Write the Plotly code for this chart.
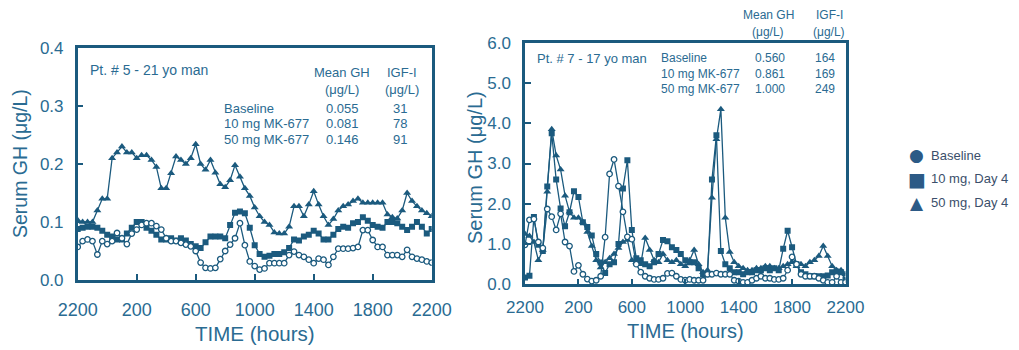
import plotly.graph_objects as go

# sampling: every 20 minutes from 2200 to 2200 (hours after 2200)
sample_hours = [m / 60 for m in range(0, 24 * 60 + 1, 20)]

x_tick_hours = [0, 4, 8, 12, 16, 20, 24]
x_tick_labels = ["2200", "200", "600", "1000", "1400", "1800", "2200"]

# ---------- Patient 5 (left) ----------
p5_baseline = [0.057, 0.067, 0.07, 0.067, 0.044, 0.067, 0.062, 0.067, 0.081, 0.072,
               0.062, 0.08, 0.087, 0.095, 0.098, 0.098, 0.093, 0.087, 0.072, 0.067,
               0.067, 0.064, 0.061, 0.058, 0.05, 0.03, 0.021, 0.02, 0.021, 0.036,
               0.05, 0.061, 0.072, 0.098, 0.06, 0.032, 0.024, 0.018, 0.02, 0.029,
               0.029, 0.029, 0.029, 0.043, 0.049, 0.043, 0.04, 0.035, 0.029, 0.037,
               0.035, 0.026, 0.04, 0.054, 0.054, 0.054, 0.055, 0.057, 0.086, 0.086,
               0.069, 0.057, 0.057, 0.043, 0.043, 0.043, 0.04, 0.052, 0.04, 0.037,
               0.035, 0.032, 0.03]
p5_10mg = [0.088, 0.09, 0.092, 0.092, 0.09, 0.085, 0.078, 0.075, 0.07, 0.07,
           0.08, 0.09, 0.1, 0.1, 0.09, 0.085, 0.078, 0.07, 0.07, 0.072,
           0.068, 0.072, 0.068, 0.062, 0.058, 0.055, 0.065, 0.075, 0.075, 0.075,
           0.072, 0.095, 0.116, 0.118, 0.115, 0.09, 0.06, 0.045, 0.04, 0.042,
           0.045, 0.045, 0.048, 0.055, 0.07, 0.068, 0.075, 0.078, 0.085, 0.08,
           0.07, 0.07, 0.078, 0.088, 0.092, 0.09, 0.098, 0.1, 0.108, 0.102,
           0.095, 0.092, 0.09, 0.1, 0.1, 0.098, 0.092, 0.086, 0.092, 0.1,
           0.092, 0.08, 0.088]
p5_50mg = [0.103, 0.1, 0.1, 0.1, 0.12, 0.14, 0.14, 0.21, 0.22, 0.23,
           0.22, 0.22, 0.21, 0.215, 0.215, 0.207, 0.195, 0.158, 0.158, 0.184,
           0.213, 0.207, 0.2, 0.21, 0.234, 0.2, 0.19, 0.207, 0.185, 0.165,
           0.16, 0.172, 0.198, 0.178, 0.158, 0.145, 0.125, 0.11, 0.1, 0.095,
           0.082, 0.08, 0.08, 0.092, 0.127, 0.127, 0.11, 0.13, 0.153, 0.13,
           0.11, 0.095, 0.105, 0.12, 0.127, 0.13, 0.136, 0.14, 0.133, 0.133,
           0.133, 0.133, 0.133, 0.113, 0.108, 0.106, 0.12, 0.15, 0.136, 0.127,
           0.12, 0.115, 0.11]

# ---------- Patient 7 (right) ----------
p7_baseline = [0.98, 1.6, 1.62, 1.05, 0.9, 1.87, 1.68, 1.35, 1.75, 1.05,
               0.95, 0.32, 0.47, 0.25, 0.13, 0.08, 0.1, 0.2, 1.17, 2.74,
               3.1, 2.44, 1.8, 1.18, 1.12, 0.5, 0.3, 0.2, 0.15, 0.12,
               0.12, 0.15, 0.27, 0.28, 0.2, 0.12, 0.1, 0.12, 0.1, 0.1,
               0.1, 0.25, 0.25, 0.28, 0.25, 0.25, 0.25, 0.1, 0.08, 0.05,
               0.05, 0.1, 0.15, 0.2, 0.15, 0.15, 0.12, 0.12, 0.15, 0.35,
               0.68, 0.5, 0.25, 0.2, 0.2, 0.2, 0.15, 0.1, 0.05, 0.05,
               0.2, 0.05, 0.05]
p7_10mg = [0.17, 0.21, 1.67, 0.98, 0.83, 2.43, 3.75, 2.6, 1.88, 1.44,
           1.79, 2.31, 2.17, 1.54, 1.42, 1.21, 0.75, 0.54, 0.28, 0.5,
           0.55, 1.0, 2.38, 3.08, 1.35, 0.65, 0.6, 0.5, 0.45, 0.55,
           0.75, 1.1, 1.07, 0.92, 0.85, 0.75, 0.6, 0.55, 0.55, 0.4,
           0.25, 0.25, 2.6, 3.7, 0.83, 0.5, 0.4, 0.3, 0.3, 0.25,
           0.3, 0.3, 0.35, 0.35, 0.4, 0.35, 0.4, 0.35, 0.88, 1.33,
           0.92, 0.5, 0.3, 0.25, 0.2, 0.2, 0.2, 0.2, 0.22, 0.3,
           0.32, 0.3, 0.12]
p7_50mg = [1.25, 1.2, 1.05, 0.6, 0.85, 2.3, 3.85, 3.2, 2.85, 2.2,
           1.8, 1.65, 1.65, 1.55, 1.3, 0.95, 0.6, 0.42, 0.55, 0.65,
           0.75, 0.9, 1.05, 1.1, 0.6, 0.55, 0.5, 1.15, 0.85, 0.6,
           0.55, 0.75, 0.6, 0.55, 0.6, 0.5, 0.45, 0.6, 0.85, 0.5,
           0.3, 0.35, 2.15, 3.6, 4.35, 1.65, 0.8, 0.55, 0.45, 0.4,
           0.35, 0.35, 0.4, 0.4, 0.45, 0.45, 0.4, 0.4, 0.45, 0.5,
           0.55, 0.45, 0.5, 0.45, 0.55, 0.6, 0.7, 0.95, 0.7, 0.45,
           0.35, 0.35, 0.25]

table_rows = ["Baseline", "10 mg MK-677", "50 mg MK-677"]
p5_mean_gh = ["0.055", "0.081", "0.146"]
p5_igf = ["31", "78", "91"]
p7_mean_gh = ["0.560", "0.861", "1.000"]
p7_igf = ["164", "169", "249"]

legend_names = ["Baseline", "10 mg, Day 4", "50 mg, Day 4"]
legend_glyphs = ["●", "■", "▲"]

LINE = "#1b5a7e"
TEXT = "#2a6b92"
FONT = "Liberation Sans"
W, H = 1019, 350

fig = go.Figure()

def add_series(xa, ya, base, d10, d50, names):
    fig.add_trace(go.Scatter(x=sample_hours, y=d50, mode="lines+markers", xaxis=xa, yaxis=ya,
                             name=names[2], line=dict(color=LINE, width=1.3),
                             marker=dict(symbol="triangle-up", size=7, color=LINE),
                             showlegend=False))
    fig.add_trace(go.Scatter(x=sample_hours, y=d10, mode="lines+markers", xaxis=xa, yaxis=ya,
                             name=names[1], line=dict(color=LINE, width=1.3),
                             marker=dict(symbol="square", size=6, color=LINE),
                             showlegend=False))
    fig.add_trace(go.Scatter(x=sample_hours, y=base, mode="lines+markers", xaxis=xa, yaxis=ya,
                             name=names[0], line=dict(color=LINE, width=1.3),
                             marker=dict(symbol="circle", size=5.5, color="white",
                                         line=dict(color=LINE, width=1.3)),
                             showlegend=False))

add_series("x", "y", p5_baseline, p5_10mg, p5_50mg, legend_names)
add_series("x2", "y2", p7_baseline, p7_10mg, p7_50mg, legend_names)

def xax(domain, standoff, size):
    return dict(domain=domain, range=[0, 24], tickvals=x_tick_hours, ticktext=x_tick_labels,
                ticks="inside", ticklen=6, tickwidth=2, tickcolor=LINE,
                showline=True, linecolor=LINE, linewidth=2.5, mirror=True,
                showgrid=False, zeroline=False, ticklabelstandoff=standoff, automargin=False,
                tickfont=dict(family=FONT, size=size, color=TEXT), fixedrange=True)

def yax(domain, rng, vals, anchor):
    return dict(domain=domain, range=rng, tickvals=vals, tickformat=".1f",
                ticks="inside", ticklen=6, tickwidth=2, tickcolor=LINE,
                showline=True, linecolor=LINE, linewidth=2.5, mirror=True,
                showgrid=False, zeroline=False, anchor=anchor, ticklabelstandoff=8,
                automargin=False,
                tickfont=dict(family=FONT, size=17, color=TEXT), fixedrange=True)

L = (77.7, 431.7, 48, 280)
R = (525, 845.5, 42.7, 284.3)

fig.update_layout(
    width=W, height=H, margin=dict(l=0, r=0, t=0, b=0, autoexpand=False),
    paper_bgcolor="white", plot_bgcolor="white",
    xaxis=xax([L[0] / W, L[1] / W], 12, 18),
    yaxis=yax([(H - L[3]) / H, (H - L[2]) / H], [0, 0.4], [0, 0.1, 0.2, 0.3, 0.4], "x"),
    xaxis2=dict(xax([R[0] / W, R[1] / W], 6, 17), anchor="y2"),
    yaxis2=yax([(H - R[3]) / H, (H - R[2]) / H], [0, 6.0], [0, 1, 2, 3, 4, 5, 6], "x2"),
    showlegend=False,
)

ann = []
def txt(x, y, s, size, anchor="center", color=TEXT, angle=0, family=FONT):
    ann.append(dict(x=x / W, y=(H - y) / H, xref="paper", yref="paper", text=s,
                    showarrow=False, xanchor=anchor, yanchor="middle", textangle=angle,
                    font=dict(family=family, size=size, color=color)))

# axis titles
txt(20, 164, "Serum GH (μg/L)", 19.5, angle=-90)
txt(254.7, 333, "TIME (hours)", 20.5)
txt(475, 168, "Serum GH (μg/L)", 20, angle=-90)
txt(685, 331, "TIME (hours)", 20)

# left panel inner table
txt(88, 70, "Pt. # 5 - 21 yo man", 14, anchor="left")
txt(341.7, 73, "Mean GH", 13)
txt(341.7, 90, "(μg/L)", 13)
txt(401.7, 73, "IGF-I", 13)
txt(401.7, 90, "(μg/L)", 13)
for k, (r, m, g) in enumerate(zip(table_rows, p5_mean_gh, p5_igf)):
    yy = 108.3 + k * 15.5
    txt(221.7, yy, r, 13, anchor="left")
    txt(342.3, yy, m, 13)
    txt(400, yy, g, 13)

# right panel inner table
txt(535, 58.3, "Pt. # 7 - 17 yo man", 13, anchor="left")
txt(768.3, 15, "Mean GH", 12)
txt(768.3, 32, "(μg/L)", 12)
txt(829.3, 15, "IGF-I", 12)
txt(829.3, 32, "(μg/L)", 12)
for k, (r, m, g) in enumerate(zip(table_rows, p7_mean_gh, p7_igf)):
    yy = 58.3 + k * 15.5
    txt(659.3, yy, r, 12, anchor="left")
    txt(770, yy, m, 12)
    txt(825, yy, g, 12)

# legend (symbol glyphs + names)
for k, (name, glyph) in enumerate(zip(legend_names, legend_glyphs)):
    yy = 155 + k * 23.8
    txt(916.5, yy, glyph, 17 if glyph != "■" else 19, color="#2c5a86", family="DejaVu Sans")
    txt(928.5, yy, name, 13, anchor="left", color="#3b4f6b")

fig.update_layout(annotations=ann)
fig.write_html("out.html")
